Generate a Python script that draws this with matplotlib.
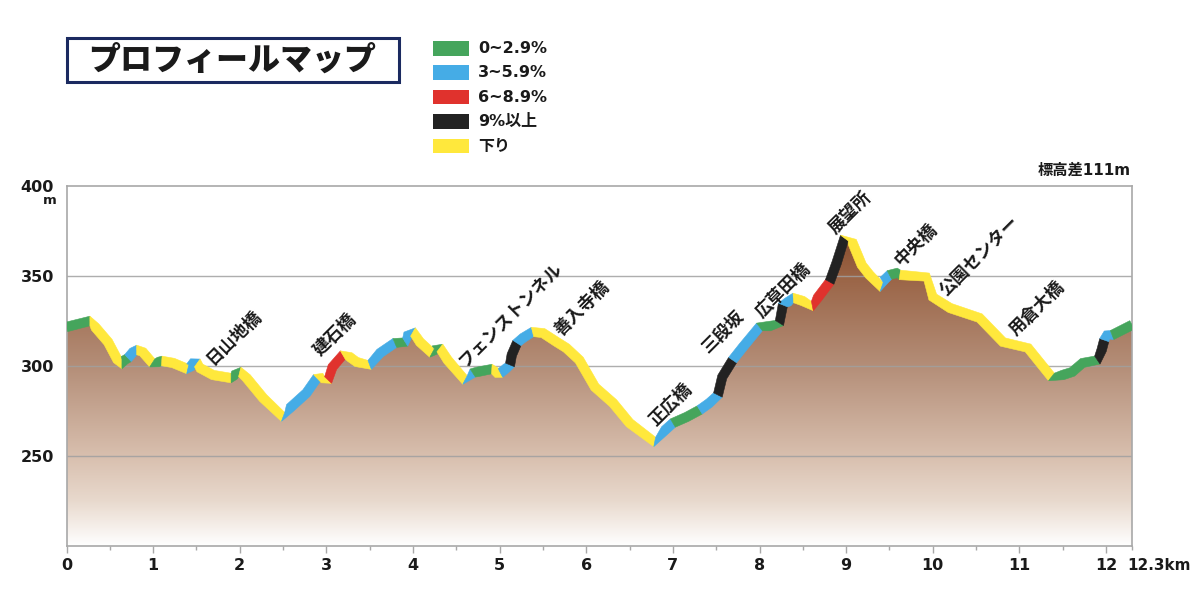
import numpy as np
import matplotlib
matplotlib.use("Agg")
import matplotlib.pyplot as plt
from matplotlib.colors import LinearSegmentedColormap
from matplotlib.patches import Polygon, Rectangle

JP = ["Noto Sans CJK JP", "DejaVu Sans"]
LATIN = ["DejaVu Sans", "Noto Sans CJK JP"]

# course profile, km and metres
dist_km = [0.00, 0.27, 0.33, 0.48, 0.59, 0.64, 0.67, 0.71, 0.77, 0.81, 0.88, 0.99, 1.06, 1.10, 1.23, 1.40,
           1.43, 1.46, 1.51, 1.54, 1.69, 1.90, 1.94, 2.00, 2.08, 2.27, 2.50, 2.58, 2.77, 2.89, 2.95, 3.02,
           3.07, 3.19, 3.27, 3.35, 3.50, 3.62, 3.79, 3.91, 3.94, 4.00, 4.08, 4.22, 4.25, 4.31, 4.40, 4.60,
           4.69, 4.74, 4.91, 4.97, 5.01, 5.08, 5.12, 5.14, 5.20, 5.27, 5.38, 5.50, 5.66, 5.77, 5.92, 6.10,
           6.31, 6.50, 6.79, 6.91, 7.00, 7.16, 7.31, 7.42, 7.52, 7.57, 7.69, 7.81, 8.00, 8.12, 8.23, 8.27,
           8.33, 8.39, 8.50, 8.61, 8.67, 8.81, 8.89, 8.98, 9.07, 9.18, 9.27, 9.41, 9.44, 9.50, 9.59, 9.62,
           9.93, 10.00, 10.20, 10.54, 10.81, 11.10, 11.37, 11.50, 11.61, 11.73, 11.90, 11.95, 11.98, 12.01,
           12.07, 12.30]
elev_m = [321.7, 325.0, 321.7, 313.3, 303.3, 301.1, 303.3, 304.4, 307.8, 308.9, 307.8, 301.7, 302.2, 302.8, 301.7, 298.3,
          299.4, 301.7, 301.7, 298.9, 295.0, 293.3, 295.0, 296.7, 293.3, 282.2, 271.7, 276.7, 285.0, 293.3, 293.3, 292.2,
          299.4, 306.1, 305.0, 302.2, 300.6, 307.2, 312.8, 313.3, 317.2, 318.9, 313.3, 307.2, 308.9, 310.0, 303.3, 292.2,
          296.1, 296.7, 298.3, 296.1, 296.1, 298.9, 300.6, 306.1, 312.8, 315.6, 318.9, 318.3, 313.3, 310.0, 303.3, 288.3,
          279.4, 268.3, 257.8, 264.4, 268.3, 271.7, 275.6, 279.4, 283.9, 293.9, 303.3, 310.6, 321.7, 322.2, 323.9, 333.9,
          335.6, 337.8, 336.1, 333.3, 337.8, 346.7, 357.2, 371.1, 368.9, 356.1, 350.6, 343.9, 347.8, 350.6, 351.7, 350.6,
          349.4, 338.3, 332.2, 326.7, 313.3, 310.0, 293.9, 295.0, 296.7, 301.7, 303.3, 308.9, 314.4, 317.2,
          317.2, 322.8]

# gradient class of each stretch and the km where it ends
section_end = [0.27, 0.64, 0.71, 0.81, 0.99, 1.10, 1.40, 1.51, 1.90, 2.00, 2.50, 2.89, 3.02, 3.19, 3.50, 3.79,
               3.91, 4.00, 4.22, 4.31, 4.60, 4.69, 4.91, 5.01, 5.12, 5.20, 5.38, 6.79, 7.00, 7.31, 7.52, 7.69,
               8.00, 8.23, 8.27, 8.39, 8.61, 8.81, 8.98, 9.41, 9.50, 9.62, 11.37, 11.90, 11.98, 12.07, 12.30]
section_kind = ["g", "y", "g", "b", "y", "g", "y", "b", "y", "g", "y", "b", "y", "r", "y", "b",
                "g", "b", "y", "g", "y", "b", "g", "y", "b", "k", "b", "y", "b", "g", "b", "k",
                "b", "g", "k", "b", "y", "r", "k", "y", "b", "g", "y", "g", "k", "b", "g"]

kind_colors = {"g": "#45A55C", "b": "#45ACE6", "r": "#E0322D", "k": "#222222", "y": "#FFE83C"}
legend_kinds = ["g", "b", "r", "k", "y"]
legend_labels = ["0~2.9%", "3~5.9%", "6~8.9%", "9%以上", "下り"]

place_names = ["日山地橋", "建石橋", "フェンストンネル", "善入寺橋", "正広橋", "三段坂",
               "広草田橋", "展望所", "中央橋", "公園センター", "用倉大橋"]
place_km = [1.93, 3.10, 5.13, 5.95, 6.98, 7.58, 8.28, 9.05, 9.81, 10.54, 11.21]
place_m = [316.1, 317.2, 328.3, 331.7, 278.3, 318.9, 341.7, 385.0, 367.2, 361.1, 332.2]

y_ticks = [250, 300, 350, 400]
x_ticks = list(range(13))
x_minor = [i + 0.5 for i in range(12)] + [12.3]

dist_km = np.array(dist_km)
elev_m = np.array(elev_m)

fig = plt.figure(figsize=(12, 6.13), dpi=100)
ax = fig.add_axes([66.5 / 1200, 1 - 546 / 613, (1132 - 66.5) / 1200, 360 / 613])
ax.set_xlim(0, 12.3)
ax.set_ylim(200, 400)

# brown ground fading to white
ground = LinearSegmentedColormap.from_list(
    "ground",
    [(0, "#FFFFFF"), (0.125, "#E8D9CD"), (0.25, "#D8BFAE"), (0.5, "#B48E78"), (0.75, "#9A6446"), (0.86, "#8A4F2E"), (1, "#8A4F2E")],
    N=1024,
)
grad = np.linspace(0, 1, 720).reshape(-1, 1)
im = ax.imshow(grad, cmap=ground, origin="lower", extent=[0, 12.3, 200, 400], aspect="auto",
               interpolation="bilinear", zorder=1)
outline = np.column_stack([np.r_[dist_km, 12.3, 0], np.r_[elev_m, 200, 200]])
clip = Polygon(outline, transform=ax.transData, facecolor="none", edgecolor="none")
ax.add_patch(clip)
im.set_clip_path(clip)

for v in y_ticks[:-1]:
    ax.axhline(v, color="#A0A0A0", lw=1, alpha=0.85, zorder=2)

# coloured band: offset the profile in pixels so neighbouring stretches share their end edge
pix = ax.transData.transform(np.column_stack([dist_km, elev_m]))
tang = np.gradient(pix, axis=0)
tang = tang / np.linalg.norm(tang, axis=1, keepdims=True)
norm = np.column_stack([-tang[:, 1], tang[:, 0]])
half_width = 4.8
upper = ax.transData.inverted().transform(pix + norm * half_width)
lower = ax.transData.inverted().transform(pix - norm * half_width)

start = 0.0
for end, kind in zip(section_end, section_kind):
    keep = (dist_km >= start - 1e-6) & (dist_km <= end + 1e-6)
    shape = np.vstack([upper[keep], lower[keep][::-1]])
    ax.add_patch(Polygon(shape, closed=True, facecolor=kind_colors[kind], edgecolor=kind_colors[kind],
                         lw=0.4, clip_on=True, zorder=3))
    start = end

for name, km, m in zip(place_names, place_km, place_m):
    ax.text(km, m, name, rotation=45, ha="center", va="center", rotation_mode="anchor",
            family=JP, fontweight="bold", fontsize=12.5, color="#1A1A1A", zorder=4)

for side in ax.spines.values():
    side.set_color("#A8A8A8")
    side.set_linewidth(1.2)

ax.set_yticks(y_ticks)
ax.set_xticks(x_ticks)
ax.set_xticks(x_minor, minor=True)
ax.tick_params(axis="y", length=0, pad=9, labelsize=11.5, labelcolor="#1A1A1A")
ax.tick_params(axis="x", which="major", length=5, width=1, color="#A8A8A8", pad=4, labelsize=11.5, labelcolor="#1A1A1A")
ax.tick_params(axis="x", which="minor", length=3, width=1, color="#A8A8A8")
for lab in ax.get_xticklabels() + ax.get_yticklabels():
    lab.set_fontweight("bold")

fig.text(1127 / 1200, 1 - 565 / 613, "12.3km", ha="left", va="center", fontweight="bold", fontsize=11, color="#1A1A1A")
fig.text(57 / 1200, 1 - 200 / 613, "m", ha="right", va="center", fontweight="bold", fontsize=9.5, color="#1A1A1A")
fig.text(1131 / 1200, 1 - 170 / 613, "標高差111m", ha="right", va="center", family=LATIN, fontweight="bold", fontsize=11, color="#1A1A1A")

# title box
fig.add_artist(Rectangle((67 / 1200, 1 - 82 / 613), 332 / 1200, 44 / 613, transform=fig.transFigure,
                         facecolor="white", edgecolor="#1B2A60", lw=2.2))
fig.text(232 / 1200, 1 - 60 / 613, "プロフィールマップ", ha="center", va="center", family=JP,
         fontweight="black", fontsize=23, color="#1A1A1A")

# legend swatches
for i, (kind, label) in enumerate(zip(legend_kinds, legend_labels)):
    top = 41 + i * 24.4
    fig.add_artist(Rectangle((433 / 1200, 1 - (top + 14.5) / 613), 36 / 1200, 14.5 / 613, transform=fig.transFigure,
                             facecolor=kind_colors[kind], edgecolor="none"))
    fig.text(478 / 1200, 1 - (top + 7.5) / 613, label, ha="left", va="center", family=LATIN, fontsize=11.5,
             fontweight="bold", color="#1A1A1A")

fig.savefig("out.png", dpi=100)
